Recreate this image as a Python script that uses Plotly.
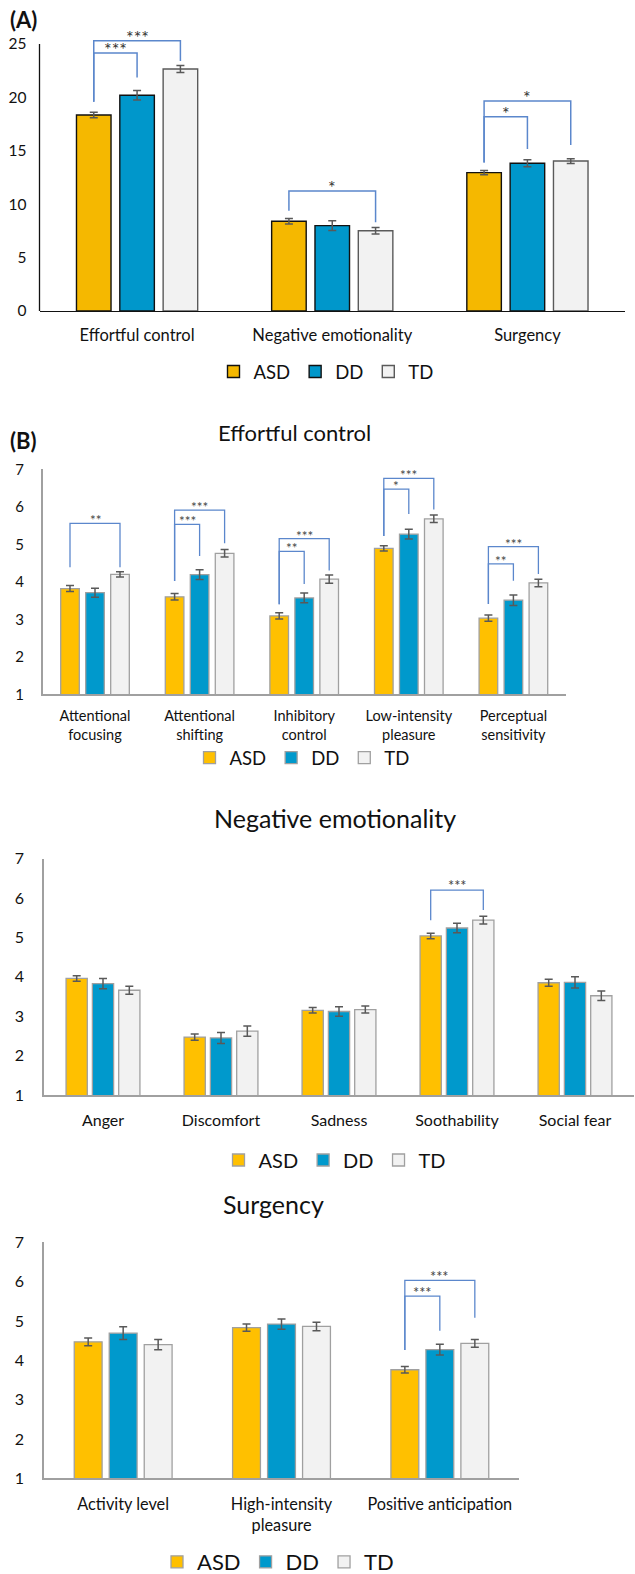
import plotly.graph_objects as go

W, H = 635, 1574
FONT = "Lato, 'Open Sans', sans-serif"

groups = ["ASD", "DD", "TD"]

# (A) composite temperament scores
a_categories = ["Effortful control", "Negative emotionality", "Surgency"]
a_asd = [18.35, 8.40, 12.95]
a_asd_err = [0.26, 0.25, 0.20]
a_dd = [20.20, 7.99, 13.83]
a_dd_err = [0.44, 0.45, 0.33]
a_td = [22.66, 7.52, 14.04]
a_td_err = [0.33, 0.30, 0.22]
a_ticks = [0, 5, 10, 15, 20, 25]

# (B) Effortful control subscales
ec_categories = ["Attentional<br>focusing", "Attentional<br>shifting", "Inhibitory<br>control",
                 "Low-intensity<br>pleasure", "Perceptual<br>sensitivity"]
ec_asd = [3.82, 3.60, 3.09, 4.89, 3.03]
ec_asd_err = [0.08, 0.085, 0.085, 0.07, 0.085]
ec_dd = [3.71, 4.19, 3.57, 5.27, 3.51]
ec_dd_err = [0.12, 0.13, 0.13, 0.13, 0.14]
ec_td = [4.20, 4.76, 4.07, 5.68, 3.97]
ec_td_err = [0.07, 0.10, 0.11, 0.10, 0.10]

# (B) Negative emotionality subscales
ne_categories = ["Anger", "Discomfort", "Sadness", "Soothability", "Social fear"]
ne_asd = [3.96, 2.47, 3.15, 5.04, 3.85]
ne_asd_err = [0.07, 0.08, 0.07, 0.07, 0.09]
ne_dd = [3.83, 2.45, 3.12, 5.24, 3.86]
ne_dd_err = [0.13, 0.14, 0.12, 0.12, 0.14]
ne_td = [3.66, 2.62, 3.17, 5.44, 3.52]
ne_td_err = [0.10, 0.13, 0.09, 0.10, 0.12]

# (B) Surgency subscales
su_categories = ["Activity level", "High-intensity<br>pleasure", "Positive anticipation"]
su_asd = [4.47, 4.83, 3.76]
su_asd_err = [0.10, 0.09, 0.085]
su_dd = [4.69, 4.92, 4.27]
su_dd_err = [0.16, 0.13, 0.135]
su_td = [4.40, 4.86, 4.43]
su_td_err = [0.13, 0.11, 0.10]
b_ticks = [1, 2, 3, 4, 5, 6, 7]

# significance brackets: (category, from group, to group, label)
a_sig = [(0, 0, 1, "***"), (0, 0, 2, "***"), (1, 0, 2, "*"), (2, 0, 1, "*"), (2, 0, 2, "*")]
ec_sig = [(0, 0, 2, "**"), (1, 0, 1, "***"), (1, 0, 2, "***"), (2, 0, 1, "**"), (2, 0, 2, "***"),
          (3, 0, 1, "*"), (3, 0, 2, "***"), (4, 0, 1, "**"), (4, 0, 2, "***")]
ne_sig = [(3, 0, 2, "***")]
su_sig = [(2, 0, 1, "***"), (2, 0, 2, "***")]

# bracket geometry in axis units: (bar top level, left foot, right foot)
a_sig_geom = [(24.16, 19.6, 21.85), (25.3, 19.6, 23.4), (11.24, 9.39, 8.3),
              (18.19, 13.9, 15.17), (19.66, 13.9, 15.54)]
ec_sig_geom = [(5.56, 4.39, 4.39), (5.53, 4.02, 4.69), (5.91, 4.02, 5.03), (4.81, 3.40, 3.94),
               (5.15, 3.40, 4.30), (6.47, 5.22, 5.81), (6.76, 5.22, 5.93), (4.48, 3.41, 4.03),
               (4.94, 3.41, 4.21)]
ne_sig_geom = [(6.20, 5.44, 5.70)]
su_sig_geom = [(5.63, 4.26, 4.75), (6.03, 4.26, 5.08)]


def px_x(p):
    return p / W


def px_y(p):
    return 1 - p / H


panels = [
    dict(cats=a_categories, vals=[a_asd, a_dd, a_td], errs=[a_asd_err, a_dd_err, a_td_err],
         sig=a_sig, geom=a_sig_geom, ticks=a_ticks, yrange=[0, 27], axis_top=25,
         xpx=[39.5, 625], ypx=[22.6, 311], slot=0.222, barw=0.177,
         fills=["#F5B800", "#0097CB", "#F2F2F2"], lines=["#111111", "#111111", "#5A5A5A"],
         linew=1.4, axcolor="#111111", axw=1.3, tickfont=16.5, yfont=15.5,
         legfont=18.5, legpos=(326, 372), starfont=18, starcolor="#333333", starlift=4,
         bracketw=1.5, ystand=12, xstand=9),
    dict(cats=ec_categories, vals=[ec_asd, ec_dd, ec_td], errs=[ec_asd_err, ec_dd_err, ec_td_err],
         sig=ec_sig, geom=ec_sig_geom, ticks=b_ticks, yrange=[1, 7], axis_top=None,
         xpx=[42.7, 565.7], ypx=[469.3, 694.3], slot=0.239, barw=0.178,
         fills=["#FFC000", "#0099CC", "#F2F2F2"], lines=["#A0A0A0", "#A0A0A0", "#A0A0A0"],
         linew=1.3, axcolor="#A0A0A0", axw=1.5, tickfont=14.5, yfont=15,
         legfont=18.5, legpos=(302, 758), starfont=13.5, starcolor="#444444", starlift=3,
         bracketw=1.3, ystand=14, xstand=8),
    dict(cats=ne_categories, vals=[ne_asd, ne_dd, ne_td], errs=[ne_asd_err, ne_dd_err, ne_td_err],
         sig=ne_sig, geom=ne_sig_geom, ticks=b_ticks, yrange=[1, 7], axis_top=None,
         xpx=[44, 634], ypx=[858.7, 1095], slot=0.223, barw=0.18,
         fills=["#FFC000", "#0099CC", "#F2F2F2"], lines=["#A0A0A0", "#A0A0A0", "#A0A0A0"],
         linew=1.3, axcolor="#A0A0A0", axw=1.5, tickfont=16, yfont=16,
         legfont=20, legpos=(335, 1160), starfont=14.5, starcolor="#444444", starlift=5,
         bracketw=1.3, ystand=15, xstand=10),
    dict(cats=su_categories, vals=[su_asd, su_dd, su_td], errs=[su_asd_err, su_dd_err, su_td_err],
         sig=su_sig, geom=su_sig_geom, ticks=b_ticks, yrange=[1, 7], axis_top=None,
         xpx=[44, 519], ypx=[1242.3, 1478.3], slot=0.221, barw=0.176,
         fills=["#FFC000", "#0099CC", "#F2F2F2"], lines=["#A0A0A0", "#A0A0A0", "#A0A0A0"],
         linew=1.3, axcolor="#A0A0A0", axw=1.5, tickfont=16.3, yfont=16,
         legfont=22, legpos=(278, 1562), starfont=14.5, starcolor="#444444", starlift=4,
         bracketw=1.3, ystand=15, xstand=10),
]

fig = go.Figure()
shapes = []
annotations = []
layout = {}

for i, p in enumerate(panels):
    n = i + 1
    xa = "x" if n == 1 else f"x{n}"
    ya = "y" if n == 1 else f"y{n}"
    leg = "legend" if n == 1 else f"legend{n}"
    idx = list(range(len(p["cats"])))
    centers = [(g - 1) * p["slot"] for g in range(3)]

    for g, name in enumerate(groups):
        fig.add_trace(go.Bar(
            x=idx, y=p["vals"][g], name=name, xaxis=xa, yaxis=ya, legend=leg,
            width=p["barw"], offset=centers[g] - p["barw"] / 2,
            marker=dict(color=p["fills"][g], line=dict(color=p["lines"][g], width=p["linew"])),
            error_y=dict(type="data", array=p["errs"][g], color="#595959", thickness=1.5, width=4),
            hoverinfo="skip",
        ))

    key = "" if n == 1 else str(n)
    layout["xaxis" + key] = dict(
        domain=[px_x(p["xpx"][0]), px_x(p["xpx"][1])], anchor=ya,
        range=[-0.5, len(idx) - 0.5], tickmode="array", tickvals=idx, ticktext=p["cats"],
        showline=True, linecolor=p["axcolor"], linewidth=p["axw"], showgrid=False,
        zeroline=False, ticks="", tickangle=0, ticklabelstandoff=p["xstand"],
        tickfont=dict(size=p["tickfont"], color="#111111", family=FONT), fixedrange=True,
    )
    layout["yaxis" + key] = dict(
        domain=[px_y(p["ypx"][1]), px_y(p["ypx"][0])], anchor=xa,
        range=p["yrange"], tickmode="array", tickvals=p["ticks"],
        showline=p["axis_top"] is None, linecolor=p["axcolor"], linewidth=p["axw"],
        showgrid=False, zeroline=False, ticks="", ticklabelstandoff=p["ystand"],
        tickfont=dict(size=p["yfont"], color="#111111", family=FONT), fixedrange=True,
    )
    if p["axis_top"] is not None:
        # vertical axis line stops at the last tick, leaving room for brackets above
        shapes.append(dict(type="line", xref="paper", yref=ya,
                           x0=px_x(p["xpx"][0]), x1=px_x(p["xpx"][0]),
                           y0=p["yrange"][0], y1=p["axis_top"],
                           line=dict(color=p["axcolor"], width=p["axw"])))

    layout[leg] = dict(
        orientation="h", xref="container", yref="container",
        x=px_x(p["legpos"][0]), y=px_y(p["legpos"][1]),
        xanchor="center", yanchor="middle", bgcolor="rgba(0,0,0,0)",
        font=dict(size=p["legfont"], color="#111111", family=FONT),
        itemwidth=30, traceorder="normal",
    )

    for (cat, g0, g1, label), (top, f0, f1) in zip(p["sig"], p["geom"]):
        x0 = cat + centers[g0]
        x1 = cat + centers[g1]
        shapes.append(dict(
            type="path", xref=xa, yref=ya,
            path=f"M{x0},{f0} L{x0},{top} L{x1},{top} L{x1},{f1}",
            line=dict(color="#5B87CC", width=p["bracketw"]),
        ))
        annotations.append(dict(
            x=(x0 + x1) / 2, y=top, xref=xa, yref=ya, text=label, showarrow=False,
            yanchor="middle", xanchor="center", yshift=p["starlift"],
            font=dict(size=p["starfont"], color=p["starcolor"], family=FONT),
        ))

# panel labels and subplot titles
annotations += [
    dict(x=px_x(8), y=px_y(19), xref="paper", yref="paper", text="<b>(A)</b>", showarrow=False,
         xanchor="left", yanchor="middle", font=dict(size=22, color="#111111", family=FONT)),
    dict(x=px_x(8), y=px_y(440), xref="paper", yref="paper", text="<b>(B)</b>", showarrow=False,
         xanchor="left", yanchor="middle", font=dict(size=22, color="#111111", family=FONT)),
    dict(x=px_x(294.5), y=px_y(432), xref="paper", yref="paper", text="Effortful control",
         showarrow=False, xanchor="center", yanchor="middle",
         font=dict(size=22, color="#111111", family=FONT)),
    dict(x=px_x(334.7), y=px_y(818), xref="paper", yref="paper", text="Negative emotionality",
         showarrow=False, xanchor="center", yanchor="middle",
         font=dict(size=25, color="#111111", family=FONT)),
    dict(x=px_x(273.5), y=px_y(1204), xref="paper", yref="paper", text="Surgency",
         showarrow=False, xanchor="center", yanchor="middle",
         font=dict(size=25, color="#111111", family=FONT)),
]

fig.update_layout(
    width=W, height=H, margin=dict(l=0, r=0, t=0, b=0, autoexpand=False),
    paper_bgcolor="white", plot_bgcolor="white",
    barmode="overlay", showlegend=True,
    font=dict(family=FONT, color="#111111"),
    shapes=shapes, annotations=annotations, **layout,
)

fig.write_html("out.html")
